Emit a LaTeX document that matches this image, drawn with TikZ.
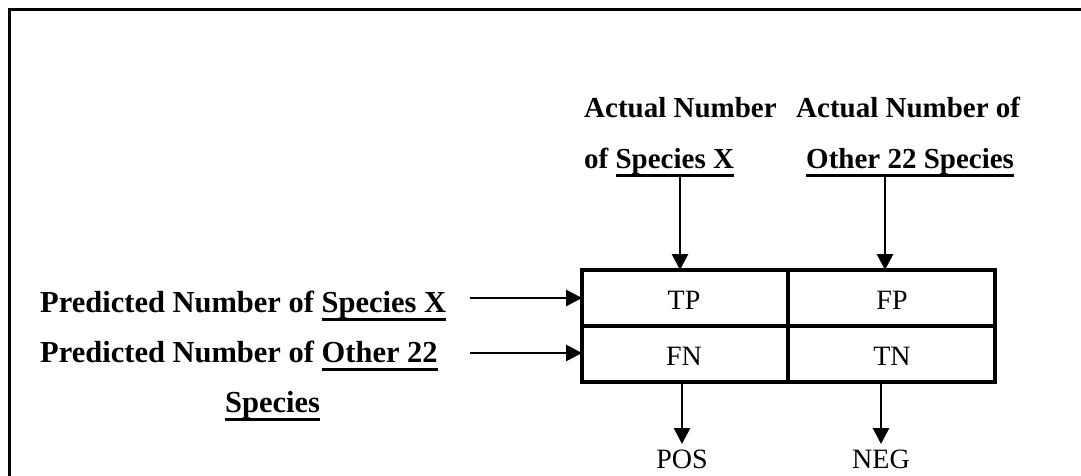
\documentclass[tikz,border=0pt]{standalone}
\usepackage{fontspec}
\setmainfont{Liberation Serif}
\usetikzlibrary{arrows.meta}

% underline with a fixed offset below the baseline
\newcommand\ulin[1]{\setbox0\hbox{#1}\rlap{\rule[-8.5pt]{\wd0}{2.7pt}}\box0}

\tikzset{
  frame/.style={line width=3pt},
  grid/.style={line width=3.2pt},
  conn/.style={line width=2.8pt, -{Triangle[width=16pt,length=16pt]}},
  head/.style={font=\fontsize{29}{34}\selectfont\bfseries, inner sep=0pt, anchor=base west},
  rowhead/.style={head, font=\fontsize{30.5}{35}\selectfont\bfseries},
  cell/.style={font=\fontsize{28}{33}\selectfont, inner sep=0pt, anchor=base},
}

\begin{document}
\begin{tikzpicture}[x=1pt, y=-1pt]
\useasboundingbox (0,0) rectangle (1081,476);

% open frame: top and left edges only
\draw[frame] (9.5,476) -- (9.5,10) -- (1081,10);

% column headings
\node[head] (a1) at (584,118) {Actual Number};
\node[head] (a2) at (584,168) {of \ulin{Species X}};
\node[head] (b1) at (796,118) {Actual Number of};
\node[head] (b2) at (806,168) {\ulin{Other 22 Species}};

% row headings
\node[rowhead] (p1) at (40,312) {Predicted Number of \ulin{Species X}};
\node[rowhead] (p2) at (40,362) {Predicted Number of \ulin{Other 22}};
\node[rowhead] (p3) at (225,412) {\ulin{Species}};

% confusion table
\coordinate (tl) at (582,270);
\coordinate (br) at (995,382);
\draw[grid] (tl) rectangle (br);
\draw[grid] (582,326) -- (995,326);
\draw[grid] (788,270) -- (788,382);

\node[cell] (tp) at (684,309) {TP};
\node[cell] (fp) at (892,309) {FP};
\node[cell] (fn) at (684,365) {FN};
\node[cell] (tn) at (892,365) {TN};

% outcome labels
\node[cell] (pos) at (682,468) {POS};
\node[cell] (neg) at (881,468) {NEG};

% anchor points on the table edges
\coordinate (in1) at (582,298);
\coordinate (in2) at (582,353);
\coordinate (c1t) at (680,270);
\coordinate (c2t) at (885,270);
\coordinate (c1b) at (682,382);
\coordinate (c2b) at (881,382);

% connectors
\draw[conn] (680,177) -- (c1t);
\draw[conn] (885,177) -- (c2t);
\draw[conn] (470,298) -- (in1);
\draw[conn] (470,353) -- (in2);
\draw[conn] (c1b) -- (pos.north |- 0,444);
\draw[conn] (c2b) -- (neg.north |- 0,444);
\end{tikzpicture}
\end{document}
